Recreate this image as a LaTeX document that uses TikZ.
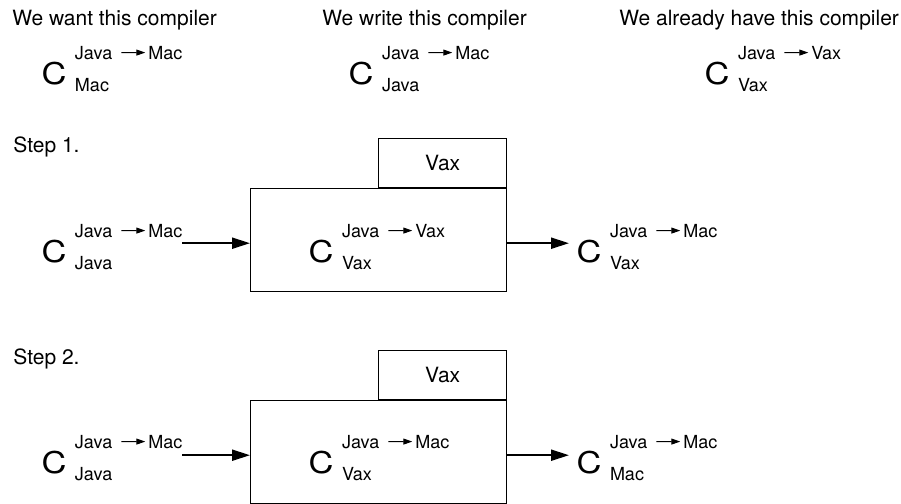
\documentclass[tikz,border=0pt]{standalone}
\usepackage{graphicx}
\usepackage{fontspec}
\setmainfont{TeX Gyre Heros}
\usetikzlibrary{positioning,arrows.meta}
\newcommand{\compiler}[6]{%
  \node[bigc] (#1) at (#2,#3+25) {\scalebox{1.15}[1]{C}};
  \node[script] (#1-src) at (#2+33.5,#3) {#4};
  \node[script, base right=18pt of #1-src] (#1-dst) {#5};
  \node[script] (#1-on) at (#2+33.5,#3+32) {#6};
  \draw[langarrow] (#1-src.east) -- (#1-dst.west);
}
\begin{document}
\begin{tikzpicture}[x=0.5pt, y=-0.5pt,
  heading/.style={font=\fontsize{10.5}{12}\selectfont, inner sep=0pt, anchor=base west},
  bigc/.style={font=\fontsize{15}{15}\selectfont, inner sep=0pt, outer sep=0pt, anchor=base west},
  script/.style={font=\fontsize{9}{9}\selectfont, inner sep=0pt, outer sep=0pt, anchor=base west},
  langarrow/.style={-{Triangle[length=4.5pt,width=3pt]}, line width=0.5pt, shorten <=4.5pt, shorten >=1.5pt},
  feed/.style={-{Triangle[length=9pt,width=5.5pt]}, line width=1.1pt},
  host/.style={draw, line width=0.7pt, minimum width=128pt, minimum height=51.5pt, anchor=north west, inner sep=0pt},
  os/.style={draw, line width=0.7pt, minimum width=64pt, minimum height=24.5pt, anchor=south east, inner sep=0pt, font=\fontsize{10.5}{12}\selectfont}]
  \useasboundingbox (0,0) rectangle (901,504);

  \node[heading] (want) at (12,25) {We want this compiler};
  \node[heading] (write) at (322,25) {We write this compiler};
  \node[heading] (have) at (619,25) {We already have this compiler};
  \compiler{want-c}{41.5}{59}{Java}{Mac}{Mac}
  \compiler{write-c}{348.5}{59}{Java}{Mac}{Java}
  \compiler{have-c}{704.5}{59}{Java}{Vax}{Vax}

  % step 1
  \node[heading] (step1) at (13,152) {Step 1.};
  \node[host] (box1) at (250,188) {};
  \node[os] (os1) at (box1.north east) {Vax};
  \compiler{s1-in}{41.5}{237}{Java}{Mac}{Java}
  \compiler{s1-tool}{308.5}{237}{Java}{Vax}{Vax}
  \compiler{s1-out}{576.5}{237}{Java}{Mac}{Vax}
  \coordinate (s1-mid) at ([yshift=-1.5pt]box1.west);
  \draw[feed] (s1-in-dst.east |- s1-mid) -- (s1-mid);
  \draw[feed, shorten >=3.75pt] (box1.east |- s1-mid) -- (s1-out.west |- s1-mid);

  % step 2
  \node[heading] (step2) at (13,364) {Step 2.};
  \node[host] (box2) at (250,400) {};
  \node[os] (os2) at (box2.north east) {Vax};
  \compiler{s2-in}{41.5}{448}{Java}{Mac}{Java}
  \compiler{s2-tool}{308.5}{448}{Java}{Mac}{Vax}
  \compiler{s2-out}{576.5}{448}{Java}{Mac}{Mac}
  \coordinate (s2-mid) at ([yshift=-1.5pt]box2.west);
  \draw[feed] (s2-in-dst.east |- s2-mid) -- (s2-mid);
  \draw[feed, shorten >=3.75pt] (box2.east |- s2-mid) -- (s2-out.west |- s2-mid);
\end{tikzpicture}
\end{document}
